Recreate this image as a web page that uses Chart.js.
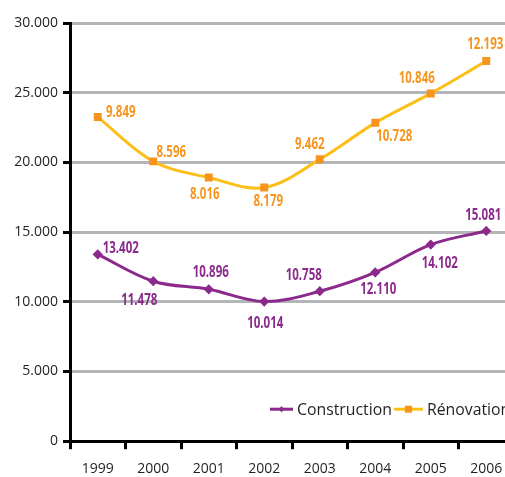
<!DOCTYPE html>
<html>
<head>
<meta charset="utf-8">
<script src="https://cdn.jsdelivr.net/npm/chart.js@4.4.0/dist/chart.umd.min.js"></script>
<style>
  html, body { margin: 0; padding: 0; background: #fff; overflow: hidden; }
  #chart { display: block; }
</style>
</head>
<body>
<canvas id="chart" width="521" height="488"></canvas>
<script>
const years = ["1999", "2000", "2001", "2002", "2003", "2004", "2005", "2006"];
const construction = [13402, 11478, 10896, 10014, 10758, 12110, 14102, 15081];
const renovation = [9849, 8596, 8016, 8179, 9462, 10728, 10846, 12193];
const yTicks = [0, 5000, 10000, 15000, 20000, 25000, 30000];

// where each value label sits relative to its point: [dx, dy]
const constructionLabelPos = [[23, -6], [-14, 19], [2, -17], [1, 22], [-16, -16], [3, 17], [9, 19], [-3, -16]];
const renovationLabelPos = [[23, -5], [18, -9], [-4, 17], [4, 14], [-10, -15], [19, 14], [-14, -15], [-1, -17]];

const PURPLE = "#8b2a8c";
const YELLOW = "#fdbf17";
const ORANGE = "#f7941d";
const TEXT = "#231f20";

const fmt = v => {
  const s = String(v);
  return s.length > 3 ? s.slice(0, -3) + "." + s.slice(-3) : s;
};

// draw text squeezed horizontally (condensed look)
function narrowText(ctx, text, x, y, sx) {
  ctx.save();
  ctx.translate(x, y);
  ctx.scale(sx, 1);
  ctx.fillText(text, 0, 0);
  ctx.restore();
}

const valueLabels = {
  id: "valueLabels",
  afterDatasetsDraw(chart) {
    const ctx = chart.ctx;
    ctx.save();
    ctx.font = "bold 16px 'Open Sans', sans-serif";
    ctx.textAlign = "center";
    ctx.textBaseline = "middle";
    chart.data.datasets.forEach((ds, i) => {
      const meta = chart.getDatasetMeta(i);
      const pos = i === 0 ? constructionLabelPos : renovationLabelPos;
      ctx.fillStyle = i === 0 ? PURPLE : ORANGE;
      meta.data.forEach((pt, j) => {
        narrowText(ctx, fmt(ds.data[j]), pt.x + pos[j][0], pt.y + pos[j][1], 0.72);
      });
    });
    ctx.restore();
  }
};

// legend drawn inside the plot area, bottom right
const innerLegend = {
  id: "innerLegend",
  afterDatasetsDraw(chart) {
    const ctx = chart.ctx;
    const area = chart.chartArea;
    let x = area.left + 200;
    const y = area.bottom - 32;
    ctx.save();
    ctx.font = "17px 'Open Sans', sans-serif";
    ctx.textBaseline = "middle";
    ctx.textAlign = "left";
    chart.data.datasets.forEach((ds, i) => {
      const len = i === 0 ? 23 : 29;
      ctx.strokeStyle = ds.borderColor;
      ctx.lineWidth = 3;
      ctx.beginPath();
      ctx.moveTo(x, y);
      ctx.lineTo(x + len, y);
      ctx.stroke();
      ctx.fillStyle = ds.pointBackgroundColor;
      const mx = x + len / 2;
      if (i === 0) {
        ctx.beginPath();
        ctx.moveTo(mx, y - 3);
        ctx.lineTo(mx + 3, y);
        ctx.lineTo(mx, y + 3);
        ctx.lineTo(mx - 3, y);
        ctx.closePath();
        ctx.fill();
      } else {
        ctx.fillRect(mx - 3.5, y - 3.5, 7, 7);
      }
      ctx.fillStyle = TEXT;
      narrowText(ctx, ds.label, x + len + 4, y + 1, 0.93);
      x += len + 4 + ctx.measureText(ds.label).width * 0.93 + 2;
    });
    ctx.restore();
  }
};

new Chart(document.getElementById("chart"), {
  type: "line",
  data: {
    labels: years,
    datasets: [{
      label: "Construction",
      data: construction,
      borderColor: PURPLE,
      backgroundColor: PURPLE,
      pointBackgroundColor: PURPLE,
      pointBorderColor: PURPLE,
      pointStyle: "rectRot",
      pointRadius: 3,
      borderWidth: 3,
      tension: 0.35,
      fill: false
    }, {
      label: "Rénovation",
      data: renovation,
      borderColor: YELLOW,
      backgroundColor: YELLOW,
      pointBackgroundColor: ORANGE,
      pointBorderColor: ORANGE,
      pointStyle: "rect",
      pointRadius: 3.5,
      borderWidth: 3,
      tension: 0.35,
      fill: false
    }]
  },
  options: {
    responsive: false,
    animation: false,
    layout: { padding: { top: 23, right: 2, bottom: 0, left: 2 } },
    plugins: {
      legend: { display: false },
      tooltip: { enabled: false }
    },
    scales: {
      x: {
        offset: true,
        grid: {
          offset: true,
          drawOnChartArea: false,
          drawTicks: true,
          tickLength: 8,
          tickColor: "#000",
          lineWidth: 3
        },
        border: { color: "#000", width: 3 },
        ticks: {
          color: TEXT,
          padding: 11,
          maxRotation: 0,
          font: { family: "'Open Sans', sans-serif", size: 14 }
        }
      },
      y: {
        stacked: true,
        min: 0,
        max: 30000,
        afterBuildTicks: axis => { axis.ticks = yTicks.map(v => ({ value: v })); },
        afterFit: axis => { axis.width = 68; },
        grid: {
          color: "#b3b5b8",
          lineWidth: 3,
          tickColor: "#000",
          tickLength: 7
        },
        border: { color: "#000", width: 3 },
        ticks: {
          color: TEXT,
          padding: 5,
          font: { family: "'Open Sans', sans-serif", size: 14 },
          callback: v => fmt(v)
        }
      }
    }
  },
  plugins: [valueLabels, innerLegend]
});
</script>
</body>
</html>
